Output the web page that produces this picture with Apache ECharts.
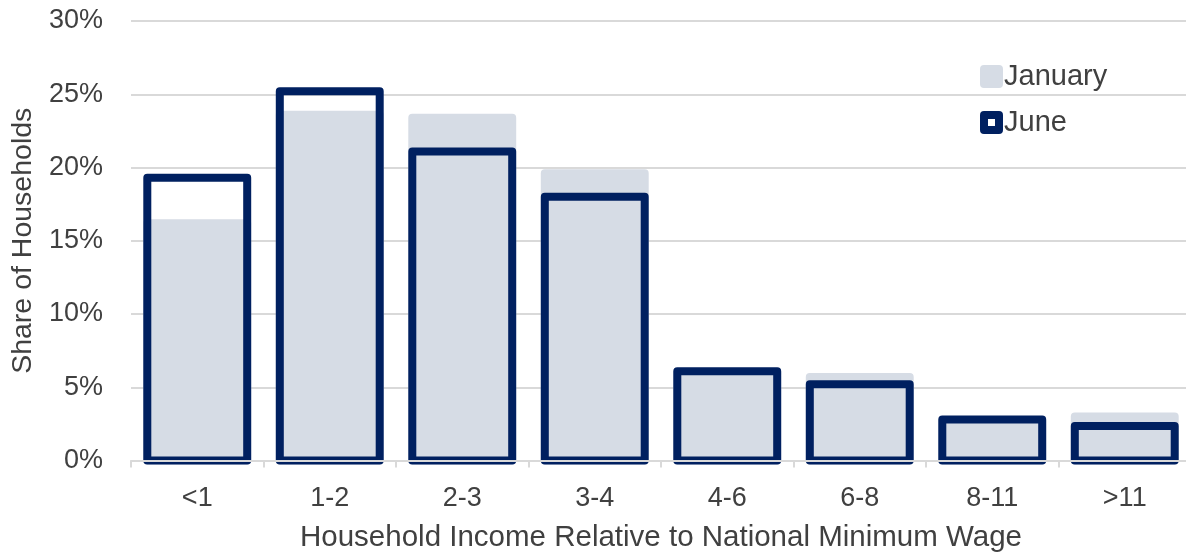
<!DOCTYPE html>
<html>
<head>
<meta charset="utf-8">
<script src="https://cdn.jsdelivr.net/npm/echarts@6/dist/echarts.min.js"></script>
<style>
html,body{margin:0;padding:0;background:#fff;}
#chart{width:1186px;height:552px;}
</style>
</head>
<body>
<div id="chart"></div>
<script>
const categories = ['<1', '1-2', '2-3', '3-4', '4-6', '6-8', '8-11', '>11'];
const january = [16.2, 23.6, 23.4, 19.6, 6.0, 5.7, 2.7, 3.0];
const june = [19.3, 25.2, 21.1, 18.0, 6.1, 5.2, 2.8, 2.35];
const yTicks = [0, 5, 10, 15, 20, 25, 30];

const TEXT = '#404040';
const GRID = '#d9d9d9';
const NAVY = '#002060';
const GRAY = '#d6dce5';
const FONT = '"Liberation Sans", Arial, sans-serif';
const BAR_RATIO = 0.754;
const BORDER = 8;

function barRenderer(fill, stroke) {
  return function (params, api) {
    const idx = api.value(0);
    const v = api.value(1);
    const top = api.coord([idx, v]);
    const base = api.coord([idx, 0]);
    const w = api.size([1, 0])[0] * BAR_RATIO;
    return {
      type: 'rect',
      shape: {x: top[0] - w / 2, y: top[1], width: w, height: base[1] - top[1]},
      style: {fill: fill, stroke: stroke, lineWidth: BORDER, lineJoin: 'round'}
    };
  };
}

const chart = echarts.init(document.getElementById('chart'), null, {renderer: 'canvas'});
chart.setOption({
  animation: false,
  backgroundColor: '#fff',
  textStyle: {fontFamily: FONT, color: TEXT},
  grid: {left: 131, right: -5, top: 21, bottom: 91.5, containLabel: false, outerBoundsMode: 'none'},
  legend: {
    orient: 'vertical',
    left: 975,
    top: 57,
    itemGap: 17,
    itemWidth: 15,
    itemHeight: 15,
    textStyle: {fontFamily: FONT, fontSize: 29, color: TEXT},
    data: [
      {name: 'January', icon: 'rect', itemStyle: {color: GRAY, borderColor: GRAY, borderWidth: BORDER, borderJoin: 'round'}},
      {name: 'June', icon: 'rect', itemStyle: {color: '#fff', borderColor: NAVY, borderWidth: BORDER, borderJoin: 'round'}}
    ]
  },
  xAxis: {
    type: 'category',
    data: categories,
    z: 10,
    name: 'Household Income Relative to National Minimum Wage',
    nameLocation: 'middle',
    nameGap: 62,
    nameTextStyle: {fontFamily: FONT, fontSize: 29.5, color: TEXT},
    axisLine: {lineStyle: {color: GRID, width: 2}},
    axisTick: {show: true, length: 7, lineStyle: {color: GRID, width: 2}},
    axisLabel: {fontFamily: FONT, fontSize: 27, color: TEXT, margin: 25},
    splitLine: {show: false}
  },
  yAxis: {
    type: 'value',
    min: 0,
    max: 30,
    interval: 5,
    name: 'Share of Households',
    nameLocation: 'middle',
    nameGap: 90,
    nameTextStyle: {fontFamily: FONT, fontSize: 28.5, color: TEXT},
    axisLine: {show: false},
    axisTick: {show: false},
    axisLabel: {fontFamily: FONT, fontSize: 27, color: TEXT, margin: 28,
      formatter: v => yTicks.includes(v) ? v + '%' : ''},
    splitLine: {lineStyle: {color: GRID, width: 2}}
  },
  series: [
    {
      name: 'January',
      type: 'custom',
      renderItem: barRenderer(GRAY, GRAY),
      encode: {x: 0, y: 1},
      data: january.map((v, i) => [i, v]),
      z: 2
    },
    {
      name: 'June',
      type: 'custom',
      renderItem: barRenderer('rgba(0,0,0,0)', NAVY),
      encode: {x: 0, y: 1},
      data: june.map((v, i) => [i, v]),
      z: 3
    }
  ]
});
</script>
</body>
</html>
